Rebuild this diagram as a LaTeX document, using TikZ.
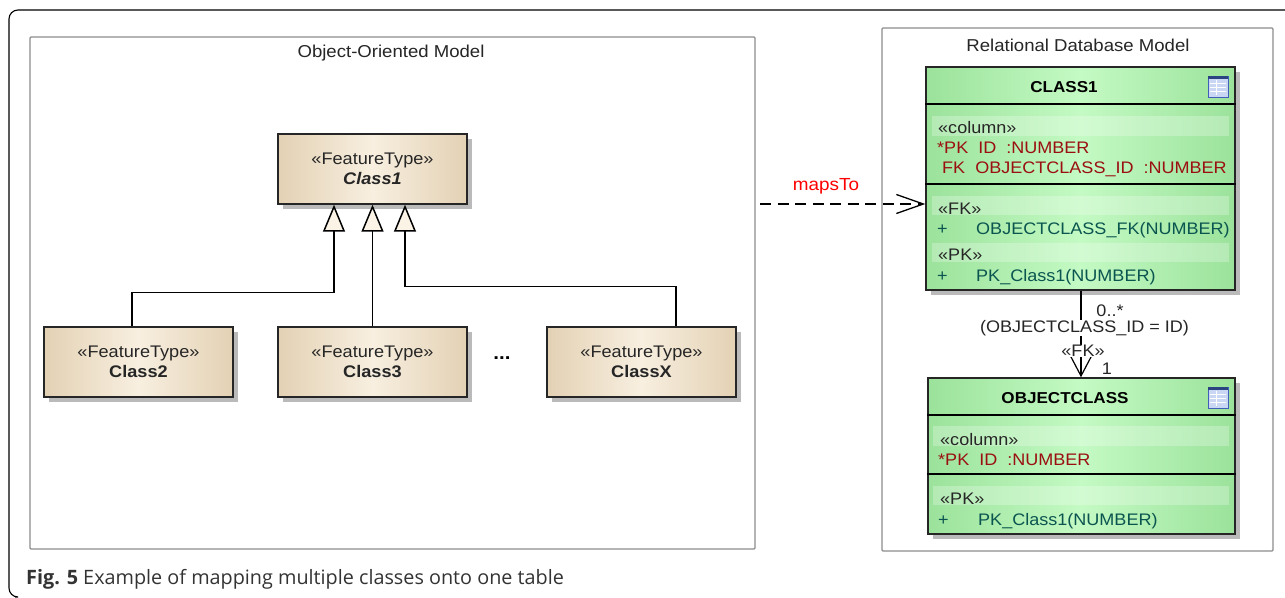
\documentclass[tikz,border=0pt]{standalone}
\usepackage{fontspec}
\setmainfont[FakeStretch=1.08]{Liberation Sans}
\newfontfamily\capfont{Open Sans}
\usetikzlibrary{arrows.meta,shadows}
\definecolor{beigeside}{HTML}{E3D1B4}
\definecolor{beigemid}{HTML}{F8EFE0}
\definecolor{tipfill}{HTML}{FBF4E6}
\definecolor{greenside}{HTML}{9BE29B}
\definecolor{greenmid}{HTML}{C4FAC4}
\definecolor{colred}{HTML}{9A1010}
\definecolor{opteal}{HTML}{0B5550}
\definecolor{framegray}{HTML}{8C8C8C}
\definecolor{iconblue}{HTML}{3F5FB8}
\definecolor{iconpale}{HTML}{C9D6F4}
\tikzset{
	package/.style={draw=framegray,line width=1.2pt,rounded corners=1pt,fill=white},
	classbox/.style={draw=black!85,line width=1.4pt,left color=beigeside,right color=beigeside,middle color=beigemid,minimum width=189pt,minimum height=70pt,inner sep=0pt,align=center,text=black!85,font=\fontsize{16.8}{20}\selectfont,general shadow={fill=black!27,shadow xshift=5pt,shadow yshift=-5pt}},
	tablebox/.style={draw=black!85,line width=1.4pt,left color=greenside,right color=greenside,middle color=greenmid,general shadow={fill=black!27,shadow xshift=5pt,shadow yshift=-5pt}},
	cell/.style={anchor=base west,inner sep=0pt,text=black!85,font=\fontsize{16.7}{18}\selectfont},
	colcell/.style={cell,text=colred},
	opcell/.style={cell,text=opteal},
	title/.style={inner sep=0pt,font=\fontsize{15.8}{18}\selectfont\bfseries},
	caption/.style={inner sep=0pt,text=black!85,font=\fontsize{17.2}{18}\selectfont},
	fklabel/.style={inner sep=0pt,fill=white,text=black!85,font=\fontsize{16.7}{18}\selectfont},
	generalize/.style={line width=1.5pt,-{Triangle[open,length=27pt,width=22pt,fill=tipfill]}},
}
\newcommand{\tableicon}[2]{
	\filldraw[draw=iconblue,fill=iconpale,line width=1pt] (#1,#2) rectangle ++(20,21);
	\fill[iconblue!70!black] (#1,#2) rectangle ++(20,3);
	\foreach \r in {7,11,15}
		\draw[white,line width=.8pt] (#1+2,#2+\r) -- ++(16,0);
	\draw[white,line width=.8pt] (#1+8,#2+4) -- ++(0,15);
}
\begin{document}
\begin{tikzpicture}[x=1pt,y=-1pt]
	\useasboundingbox (0,0) rectangle (1285,597);
	\coordinate (frameend) at (1285,10);
	\coordinate (framecorner) at (9,10);
	\coordinate (framefoot) at (9,597);
	\draw[black,line width=1.1pt,rounded corners=9pt] (frameend) -- (framecorner) -- (framefoot) -- ++(6,0);
	\draw[package] (30,37) rectangle (755,549);
	\draw[package] (882,28) rectangle (1273,551);
	\node[caption] (oomodel) at (391,53) {Object-Oriented Model};
	\node[caption] (rdbmodel) at (1078,45) {Relational Database Model};

	\node[classbox] (class1) at (372.5,169) {«FeatureType»\\\textbf{\textit{Class1}}};
	\node[classbox] (class2) at (138.5,362) {«FeatureType»\\\textbf{Class2}};
	\node[classbox] (class3) at (372.5,362) {«FeatureType»\\\textbf{Class3}};
	\node[classbox] (classx) at (641.5,362) {«FeatureType»\\\textbf{ClassX}};
	\node[inner sep=0pt,font=\fontsize{19}{19}\selectfont\bfseries] (dots) at (502,358) {...};
	\draw[generalize] ([xshift=-6.5pt]class2.north) -- ++(0,-34) -| ([xshift=-38.5pt]class1.south);
	\draw[generalize] (class3.north) -- (class1.south);
	\draw[generalize] ([xshift=34.5pt]classx.north) -- ++(0,-40) -| ([xshift=32.5pt]class1.south);

	\node[tablebox,minimum width=309pt,minimum height=223pt,inner sep=0pt] (table1) at (1080.5,178.5) {};
	\node[tablebox,minimum width=307pt,minimum height=156pt,inner sep=0pt] (table2) at (1081.5,456) {};
	\draw[black,line width=1.2pt] (table1.west |- 0,104) -- (table1.east |- 0,104);
	\draw[black,line width=1.2pt] (table1.west |- 0,184) -- (table1.east |- 0,184);
	\draw[black,line width=1.2pt] (table2.west |- 0,415) -- (table2.east |- 0,415);
	\draw[black,line width=1.2pt] (table2.west |- 0,474) -- (table2.east |- 0,474);
	\fill[white,opacity=.25] (932,116) rectangle (1229,136);
	\fill[white,opacity=.25] (932,196) rectangle (1229,215);
	\fill[white,opacity=.25] (932,243) rectangle (1229,262);
	\fill[white,opacity=.25] (933,426) rectangle (1229,446);
	\fill[white,opacity=.25] (933,486) rectangle (1229,505);
	\tableicon{1208}{76}
	\tableicon{1208}{387}

	\node[title] (class1title) at (1064,87) {CLASS1};
	\node[cell] (col1) at (938,133) {«column»};
	\node[colcell] (pk1) at (937,153) {*PK\hspace{10pt}ID\hspace{10pt}:NUMBER};
	\node[colcell] (fk1) at (942,173) {FK\hspace{10pt}OBJECTCLASS\_ID\hspace{10pt}:NUMBER};
	\node[cell] (fkhead1) at (938,214) {«FK»};
	\node[opcell] (fkplus1) at (937,234) {+};
	\node[opcell] (fkop1) at (976,234) {OBJECTCLASS\_FK(NUMBER)};
	\node[cell] (pkhead1) at (938,260) {«PK»};
	\node[opcell] (pkplus1) at (937,281) {+};
	\node[opcell] (pkop1) at (976,281) {PK\_Class1(NUMBER)};

	\node[title] (class2title) at (1065,398) {OBJECTCLASS};
	\node[cell] (col2) at (940,445) {«column»};
	\node[colcell] (pk2) at (938,465) {*PK\hspace{10pt}ID\hspace{10pt}:NUMBER};
	\node[cell] (pkhead2) at (940,504) {«PK»};
	\node[opcell] (pkplus2) at (938,525) {+};
	\node[opcell] (pkop2) at (978,525) {PK\_Class1(NUMBER)};

	\coordinate (mapsstart) at (760,204);
	\draw[dash pattern=on 11pt off 6.5pt,line width=1.3pt,-{Straight Barb[length=27pt,width=19pt]}] (mapsstart) -- (table1.west |- mapsstart);
	\node[inner sep=0pt,text=red,font=\fontsize{17.5}{18}\selectfont] (mapsto) at (826,186) {mapsTo};

	\draw[line width=1.2pt,-{Straight Barb[length=20pt,width=21pt]}] (table1.south -| 1081,0) -- (table2.north -| 1081,0);
	\node[fklabel] (cardmany) at (1110,311) {0..*};
	\node[fklabel] (fkcond) at (1084.5,328) {(OBJECTCLASS\_ID = ID)};
	\node[fklabel] (fkname) at (1083,351) {«FK»};
	\node[inner sep=0pt,text=black!85,font=\fontsize{16.7}{18}\selectfont] (cardone) at (1107,369) {1};

	\node[anchor=base west,inner sep=0pt,text=black!80,font=\fontsize{19.8}{20}\selectfont\capfont] (figcaption) at (26,584) {\textbf{Fig. 5} Example of mapping multiple classes onto one table};
\end{tikzpicture}
\end{document}
